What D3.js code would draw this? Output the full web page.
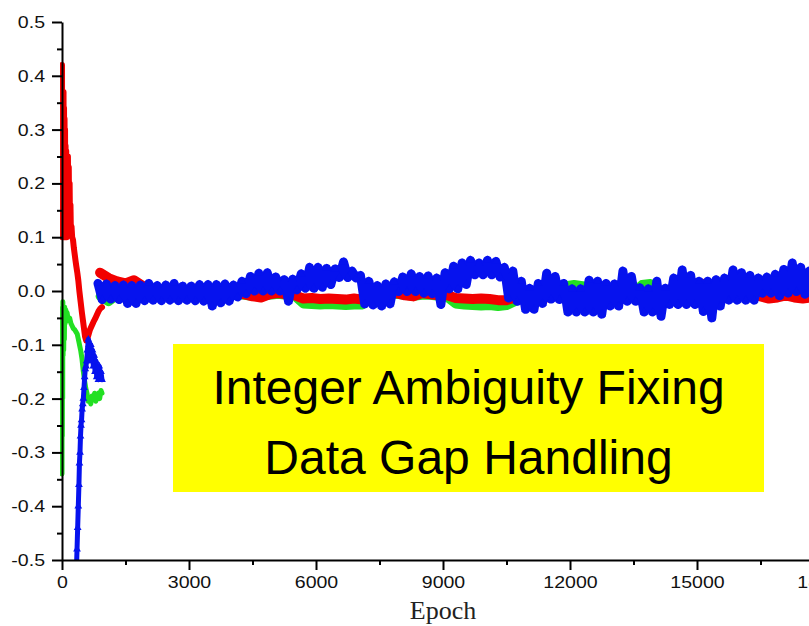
<!DOCTYPE html>
<html>
<head>
<meta charset="utf-8">
<script src="https://cdn.jsdelivr.net/npm/d3@7"></script>
<style>
  html, body { margin: 0; padding: 0; background: #fff; }
  svg { display: block; overflow: hidden; }
</style>
</head>
<body>
<svg id="chart" width="809" height="626"></svg>
<script>
// ---- axis ticks ----
const xTicks = [0, 3000, 6000, 9000, 12000, 15000, 18000];
const xMinorTicks = [1500, 4500, 7500, 10500, 13500, 16500];
const yTicks = [-0.5, -0.4, -0.3, -0.2, -0.1, 0.0, 0.1, 0.2, 0.3, 0.4, 0.5];
const yMinorTicks = [-0.45, -0.35, -0.25, -0.15, -0.05, 0.05, 0.15, 0.25, 0.35, 0.45];
const xTitle = "Epoch";
const noteLines = ["Integer Ambiguity Fixing", "Data Gap Handling"];

// ---- initial convergence, [epoch, value] ----
const redEarly = [
  [0, 0.42], [6, 0.10], [12, 0.37], [18, 0.12], [24, 0.36], [30, 0.10], [36, 0.37], [42, 0.14],
  [48, 0.34], [54, 0.10], [60, 0.32], [66, 0.13], [72, 0.30], [78, 0.11], [84, 0.27], [90, 0.12],
  [100, 0.26], [110, 0.10], [120, 0.25], [130, 0.12], [140, 0.25], [150, 0.14], [160, 0.23],
  [170, 0.13], [180, 0.20], [190, 0.12], [200, 0.16], [210, 0.11], [225, 0.12], [240, 0.10],
  [260, 0.095], [280, 0.08], [300, 0.068], [320, 0.056], [340, 0.045], [360, 0.035], [385, 0.02],
  [410, 0.0], [440, -0.02], [470, -0.04], [500, -0.058], [520, -0.07], [545, -0.085], [570, -0.092],
  [600, -0.088], [630, -0.08], [660, -0.072], [700, -0.065], [740, -0.058], [780, -0.052],
  [820, -0.045], [860, -0.038], [900, -0.033], [945, -0.03]
];
const greenEarly = [
  [0, -0.34], [4, -0.05], [8, -0.27], [12, -0.03], [16, -0.20], [20, -0.02], [26, -0.12], [32, -0.03],
  [40, -0.11], [48, -0.04], [56, -0.09], [64, -0.03], [75, -0.06], [90, -0.035], [105, -0.05],
  [120, -0.04], [150, -0.055], [180, -0.05], [210, -0.06], [240, -0.065], [270, -0.07], [300, -0.072],
  [330, -0.076], [360, -0.08], [400, -0.095], [440, -0.11], [470, -0.125], [500, -0.147],
  [530, -0.165], [560, -0.18], [590, -0.19], [620, -0.205], [650, -0.20], [680, -0.21], [710, -0.195],
  [740, -0.20], [770, -0.19], [800, -0.205], [830, -0.195], [860, -0.19], [890, -0.20], [920, -0.185],
  [945, -0.19]
];
const blueEarly = [
  [340, -0.52], [355, -0.48], [370, -0.44], [385, -0.40], [400, -0.36], [412, -0.32], [425, -0.30],
  [437, -0.27], [449, -0.25], [462, -0.24], [475, -0.22], [490, -0.21], [504, -0.20], [520, -0.18],
  [535, -0.16], [550, -0.145], [565, -0.14], [583, -0.13], [600, -0.11], [622, -0.09], [640, -0.10],
  [660, -0.12], [680, -0.10], [700, -0.13], [720, -0.11], [740, -0.14], [760, -0.12], [780, -0.15],
  [800, -0.13], [820, -0.16], [840, -0.14], [860, -0.165], [880, -0.14], [900, -0.16], [920, -0.15],
  [945, -0.165]
];

// ---- converged phase, evenly spaced epochs ----
const redStart = 900, redStep = 200;
const redMain = [
  0.034, 0.024, 0.018, 0.014, 0.020, 0.010, 0.004, 0.000, -0.004, 0.002,
  -0.002, 0.004, 0.006, 0.000, -0.004, 0.000, -0.004, -0.006, -0.010, -0.012,
  -0.006, -0.004, -0.006, -0.008, -0.014, -0.013, -0.015, -0.014, -0.015, -0.016,
  -0.014, -0.016, -0.010, -0.008, -0.006, -0.004, -0.008, -0.010, -0.004, -0.006,
  -0.008, -0.008, -0.013, -0.014, -0.015, -0.014, -0.015, -0.017, -0.017, -0.012,
  -0.010, -0.008, -0.006, -0.012, -0.008, -0.006, -0.004, -0.006, -0.002, -0.006,
  -0.008, -0.010, -0.006, -0.008, -0.010, -0.008, -0.006, -0.004, 0.000, 0.004,
  0.012, 0.014, 0.008, 0.000, -0.004, -0.006, -0.008, -0.006, -0.010, -0.014,
  -0.012, -0.008, -0.012, -0.014, -0.012
];
const greenStart = 900, greenStep = 200;
const greenMain = [
  -0.010, -0.020, -0.008, -0.006, -0.004, -0.006, -0.006, -0.004, -0.006, -0.008,
  -0.006, -0.004, -0.006, -0.008, -0.006, -0.004, -0.006, -0.008, -0.010, -0.010,
  -0.008, -0.006, -0.008, -0.010, -0.024, -0.025, -0.026, -0.025, -0.026, -0.027,
  -0.026, -0.026, -0.012, -0.010, -0.008, -0.006, -0.008, -0.010, -0.008, -0.008,
  -0.010, -0.012, -0.024, -0.026, -0.027, -0.028, -0.027, -0.029, -0.027, -0.020,
  -0.010, -0.008, -0.006, -0.008, -0.004, 0.010, 0.012, 0.010, 0.008, -0.004,
  -0.006, -0.006, -0.004, -0.002, 0.012, 0.014, -0.004, -0.006, -0.008, -0.014,
  -0.008, -0.006, -0.006, -0.008, -0.006, -0.006, -0.008, -0.006, -0.008, -0.010,
  -0.010, -0.008, -0.010, -0.012, -0.010
];
const blueStart = 850, blueStep = 100;
const blueMain = [
  0.014, -0.016, 0.013, -0.015, 0.010, -0.016, 0.011, -0.023, 0.010, -0.023,
  0.011, -0.018, 0.014, -0.017, 0.010, -0.018, 0.011, -0.017, 0.014, -0.018,
  0.009, -0.017, 0.009, -0.018, 0.012, -0.019, 0.012, -0.028, 0.012, -0.022,
  0.013, -0.019, 0.011, -0.011, 0.018, -0.005, 0.027, 0.000, 0.033, 0.000,
  0.034, 0.000, 0.026, 0.000, 0.021, -0.019, 0.022, 0.002, 0.032, 0.005,
  0.044, 0.005, 0.044, 0.007, 0.042, 0.012, 0.041, 0.025, 0.054, 0.025,
  0.037, 0.024, 0.029, -0.024, 0.018, -0.026, 0.010, -0.028, 0.013, -0.024,
  0.017, -0.001, 0.026, -0.001, 0.032, -0.001, 0.027, -0.004, 0.028, -0.005,
  0.024, -0.025, 0.034, 0.004, 0.046, 0.004, 0.052, 0.012, 0.057, 0.030,
  0.052, 0.030, 0.057, 0.030, 0.055, 0.026, 0.044, -0.013, 0.037, -0.019,
  0.018, -0.034, 0.005, -0.034, 0.014, -0.023, 0.033, -0.015, 0.027, -0.016,
  0.014, -0.039, 0.004, -0.039, 0.004, -0.039, 0.020, -0.039, 0.018, -0.043,
  0.014, -0.028, 0.013, -0.028, 0.037, -0.019, 0.027, -0.019, 0.006, -0.039,
  0.004, -0.039, 0.018, -0.047, 0.005, -0.025, 0.024, -0.025, 0.039, -0.025,
  0.029, -0.025, 0.018, -0.038, 0.018, -0.050, 0.021, -0.028, 0.024, -0.017,
  0.039, -0.017, 0.034, -0.017, 0.029, -0.017, 0.024, -0.004, 0.026, -0.004,
  0.031, -0.009, 0.040, -0.004, 0.052, -0.001, 0.044, -0.006, 0.037
];

const colors = { red: "#f20000", green: "#22e022", blue: "#0612ee" };

// ---- scales ----
const x = d3.scaleLinear().domain([0, 18000]).range([62, 824]);
const y = d3.scaleLinear().domain([-0.5, 0.5]).range([560, 22]);

const svg = d3.select("#chart");
svg.append("rect").attr("width", 809).attr("height", 626).attr("fill", "#fff");

svg.append("defs").append("clipPath").attr("id", "plotArea")
  .append("rect").attr("x", 60).attr("y", 22).attr("width", 770).attr("height", 538);

const toPoints = (start, step, vals) => vals.map((v, i) => [start + i * step, v]);
const line = d3.line().x(d => x(d[0])).y(d => y(d[1]));

const plot = svg.append("g").attr("clip-path", "url(#plotArea)");

function drawLine(data, color, width) {
  plot.append("path").datum(data)
    .attr("d", line)
    .attr("fill", "none")
    .attr("stroke", color)
    .attr("stroke-width", width)
    .attr("stroke-linejoin", "round")
    .attr("stroke-linecap", "round");
}
function drawTriangles(data, color, size) {
  plot.append("g").selectAll("path").data(data).join("path")
    .attr("transform", d => `translate(${x(d[0])},${y(d[1])})`)
    .attr("d", d3.symbol().type(d3.symbolTriangle).size(size))
    .attr("fill", color);
}

// initial convergence
drawLine(greenEarly, colors.green, 5);
drawLine(redEarly, colors.red, 6);
drawLine(blueEarly, colors.blue, 5);
drawTriangles(blueEarly, colors.blue, 26);

// converged phase
const greenPts = toPoints(greenStart, greenStep, greenMain);
const redPts = toPoints(redStart, redStep, redMain);
const bluePts = toPoints(blueStart, blueStep, blueMain);
drawLine(greenPts, colors.green, 9);
drawLine(redPts, colors.red, 10);
drawLine(bluePts, colors.blue, 9);
drawTriangles(bluePts, colors.blue, 30);

// ---- axes ----
const labelFont = "'Liberation Sans', Arial, sans-serif";
const stretch = 1.15;

const gx = svg.append("g").attr("transform", "translate(0,560)");
gx.call(d3.axisBottom(x).tickValues(xTicks).tickSize(10).tickSizeOuter(0).tickPadding(6)
  .tickFormat(d => String(d)));
gx.append("g").call(d3.axisBottom(x).tickValues(xMinorTicks).tickSize(5).tickSizeOuter(0).tickFormat(""))
  .select(".domain").remove();

const gy = svg.append("g").attr("transform", "translate(62,0)");
gy.call(d3.axisLeft(y).tickValues(yTicks).tickSize(10).tickSizeOuter(0).tickPadding(7)
  .tickFormat(d => d.toFixed(1)));
gy.append("g").call(d3.axisLeft(y).tickValues(yMinorTicks).tickSize(5).tickSizeOuter(0).tickFormat(""))
  .select(".domain").remove();

svg.selectAll(".domain").attr("stroke", "#000").attr("stroke-width", 2);
svg.selectAll(".tick line").attr("stroke", "#000").attr("stroke-width", 2);

gx.selectAll(".tick text")
  .attr("font-family", labelFont).attr("font-size", 17).attr("fill", "#111")
  .attr("transform", `scale(${stretch},1)`);
gy.selectAll(".tick text")
  .attr("font-family", labelFont).attr("font-size", 17).attr("fill", "#111")
  .attr("x", -17 / stretch)
  .attr("transform", `scale(${stretch},1)`);

svg.append("text")
  .attr("x", 443).attr("y", 619)
  .attr("text-anchor", "middle")
  .attr("font-family", "'Liberation Serif', 'Times New Roman', serif")
  .attr("font-size", 26)
  .attr("fill", "#222")
  .text(xTitle);

// ---- annotation box ----
svg.append("rect")
  .attr("x", 173).attr("y", 344).attr("width", 591).attr("height", 148)
  .attr("fill", "#ffff00");
svg.append("g").selectAll("text").data(noteLines).join("text")
  .attr("x", 468.5)
  .attr("y", (d, i) => 404 + i * 70)
  .attr("text-anchor", "middle")
  .attr("font-family", labelFont)
  .attr("font-size", 48)
  .attr("fill", "#000")
  .text(d => d);
</script>
</body>
</html>
